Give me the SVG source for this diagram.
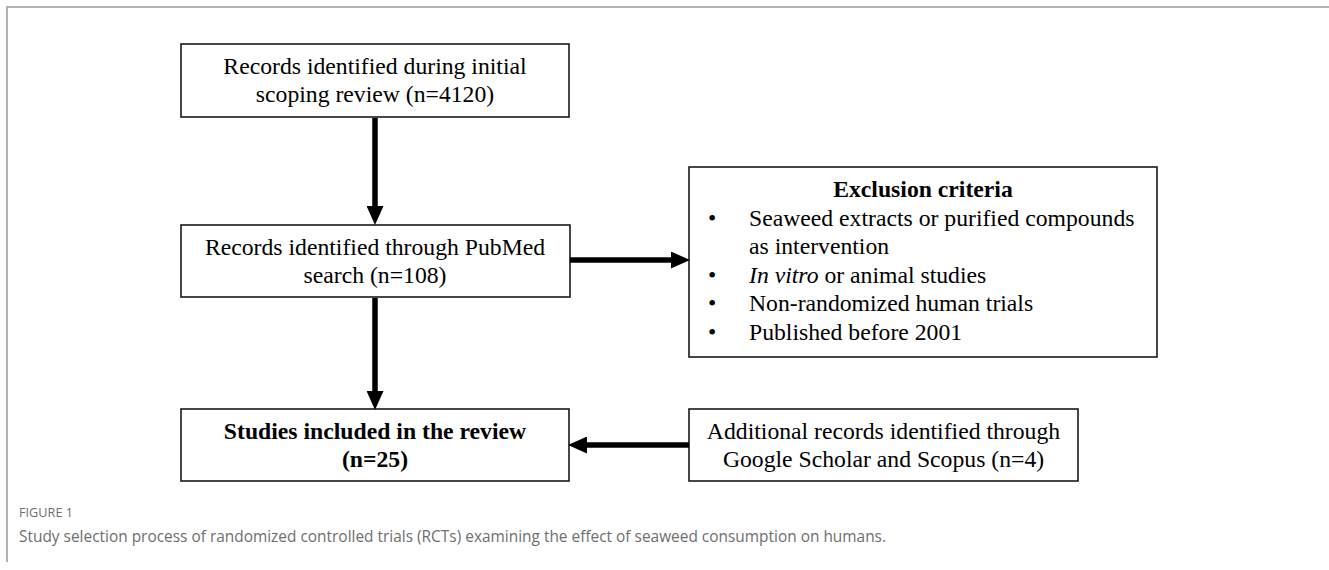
<svg xmlns="http://www.w3.org/2000/svg" width="1329" height="570" viewBox="0 0 1329 570">
<style>
.frame{stroke:#b3b3b3;stroke-width:2;fill:none}
.box{fill:#fff;stroke:#1a1a1a;stroke-width:1.6}
.t{font-family:"Liberation Serif","Times New Roman",serif;font-size:23.7px;fill:#000}
.c{text-anchor:middle}
.b{font-weight:bold}
.conn{stroke:#000;stroke-width:5.5;fill:none}
.cap1{font-family:"Open Sans","Noto Sans",sans-serif;font-size:13.5px;fill:#6e6e6e}
.cap2{font-family:"Open Sans","Noto Sans",sans-serif;font-size:17px;fill:#6e6e6e}
</style>
<defs>
<marker id="ah" markerUnits="userSpaceOnUse" markerWidth="19" markerHeight="17" refX="0" refY="8.5" orient="auto">
<path d="M0,0 L19,8.5 L0,17 Z" fill="#000"/>
</marker>
</defs>
<rect width="1329" height="570" fill="#fff"/>
<path class="frame" d="M7,562 V7 H1329"/>

<g id="n1">
<rect class="box" x="181" y="44" width="388" height="73"/>
<text class="t c" x="375" y="74">Records identified during initial</text>
<text class="t c" x="375" y="102">scoping review (n=4120)</text>
</g>

<g id="n2">
<rect class="box" x="181" y="225" width="389" height="72"/>
<text class="t c" x="375" y="255">Records identified through PubMed</text>
<text class="t c" x="375" y="283">search (n=108)</text>
</g>

<g id="n3">
<rect class="box" x="689" y="167" width="468" height="190"/>
<text class="t c b" x="923" y="197">Exclusion criteria</text>
<text class="t" x="708" y="225.5">•</text>
<text class="t" x="749" y="225.5">Seaweed extracts or purified compounds</text>
<text class="t" x="749" y="254">as intervention</text>
<text class="t" x="708" y="282.5">•</text>
<text class="t" x="749" y="282.5"><tspan font-style="italic">In vitro</tspan> or animal studies</text>
<text class="t" x="708" y="311">•</text>
<text class="t" x="749" y="311">Non-randomized human trials</text>
<text class="t" x="708" y="339.5">•</text>
<text class="t" x="749" y="339.5">Published before 2001</text>
</g>

<g id="n4">
<rect class="box" x="181" y="409" width="388" height="72"/>
<text class="t c b" x="375" y="439">Studies included in the review</text>
<text class="t c b" x="375" y="467">(n=25)</text>
</g>

<g id="n5">
<rect class="box" x="689" y="409" width="389" height="72"/>
<text class="t c" x="883.5" y="439">Additional records identified through</text>
<text class="t c" x="883.5" y="467">Google Scholar and Scopus (n=4)</text>
</g>

<g id="connectors">
<line class="conn" x1="375" y1="118" x2="375" y2="206" marker-end="url(#ah)"/>
<line class="conn" x1="570" y1="260" x2="671" y2="260" marker-end="url(#ah)"/>
<line class="conn" x1="375" y1="298" x2="375" y2="391" marker-end="url(#ah)"/>
<line class="conn" x1="689" y1="445" x2="587" y2="445" marker-end="url(#ah)"/>
</g>

<text class="cap1" x="19" y="517" textLength="54" lengthAdjust="spacingAndGlyphs">FIGURE 1</text>
<text class="cap2" x="19" y="542" textLength="867" lengthAdjust="spacingAndGlyphs">Study selection process of randomized controlled trials (RCTs) examining the effect of seaweed consumption on humans.</text>
</svg>
